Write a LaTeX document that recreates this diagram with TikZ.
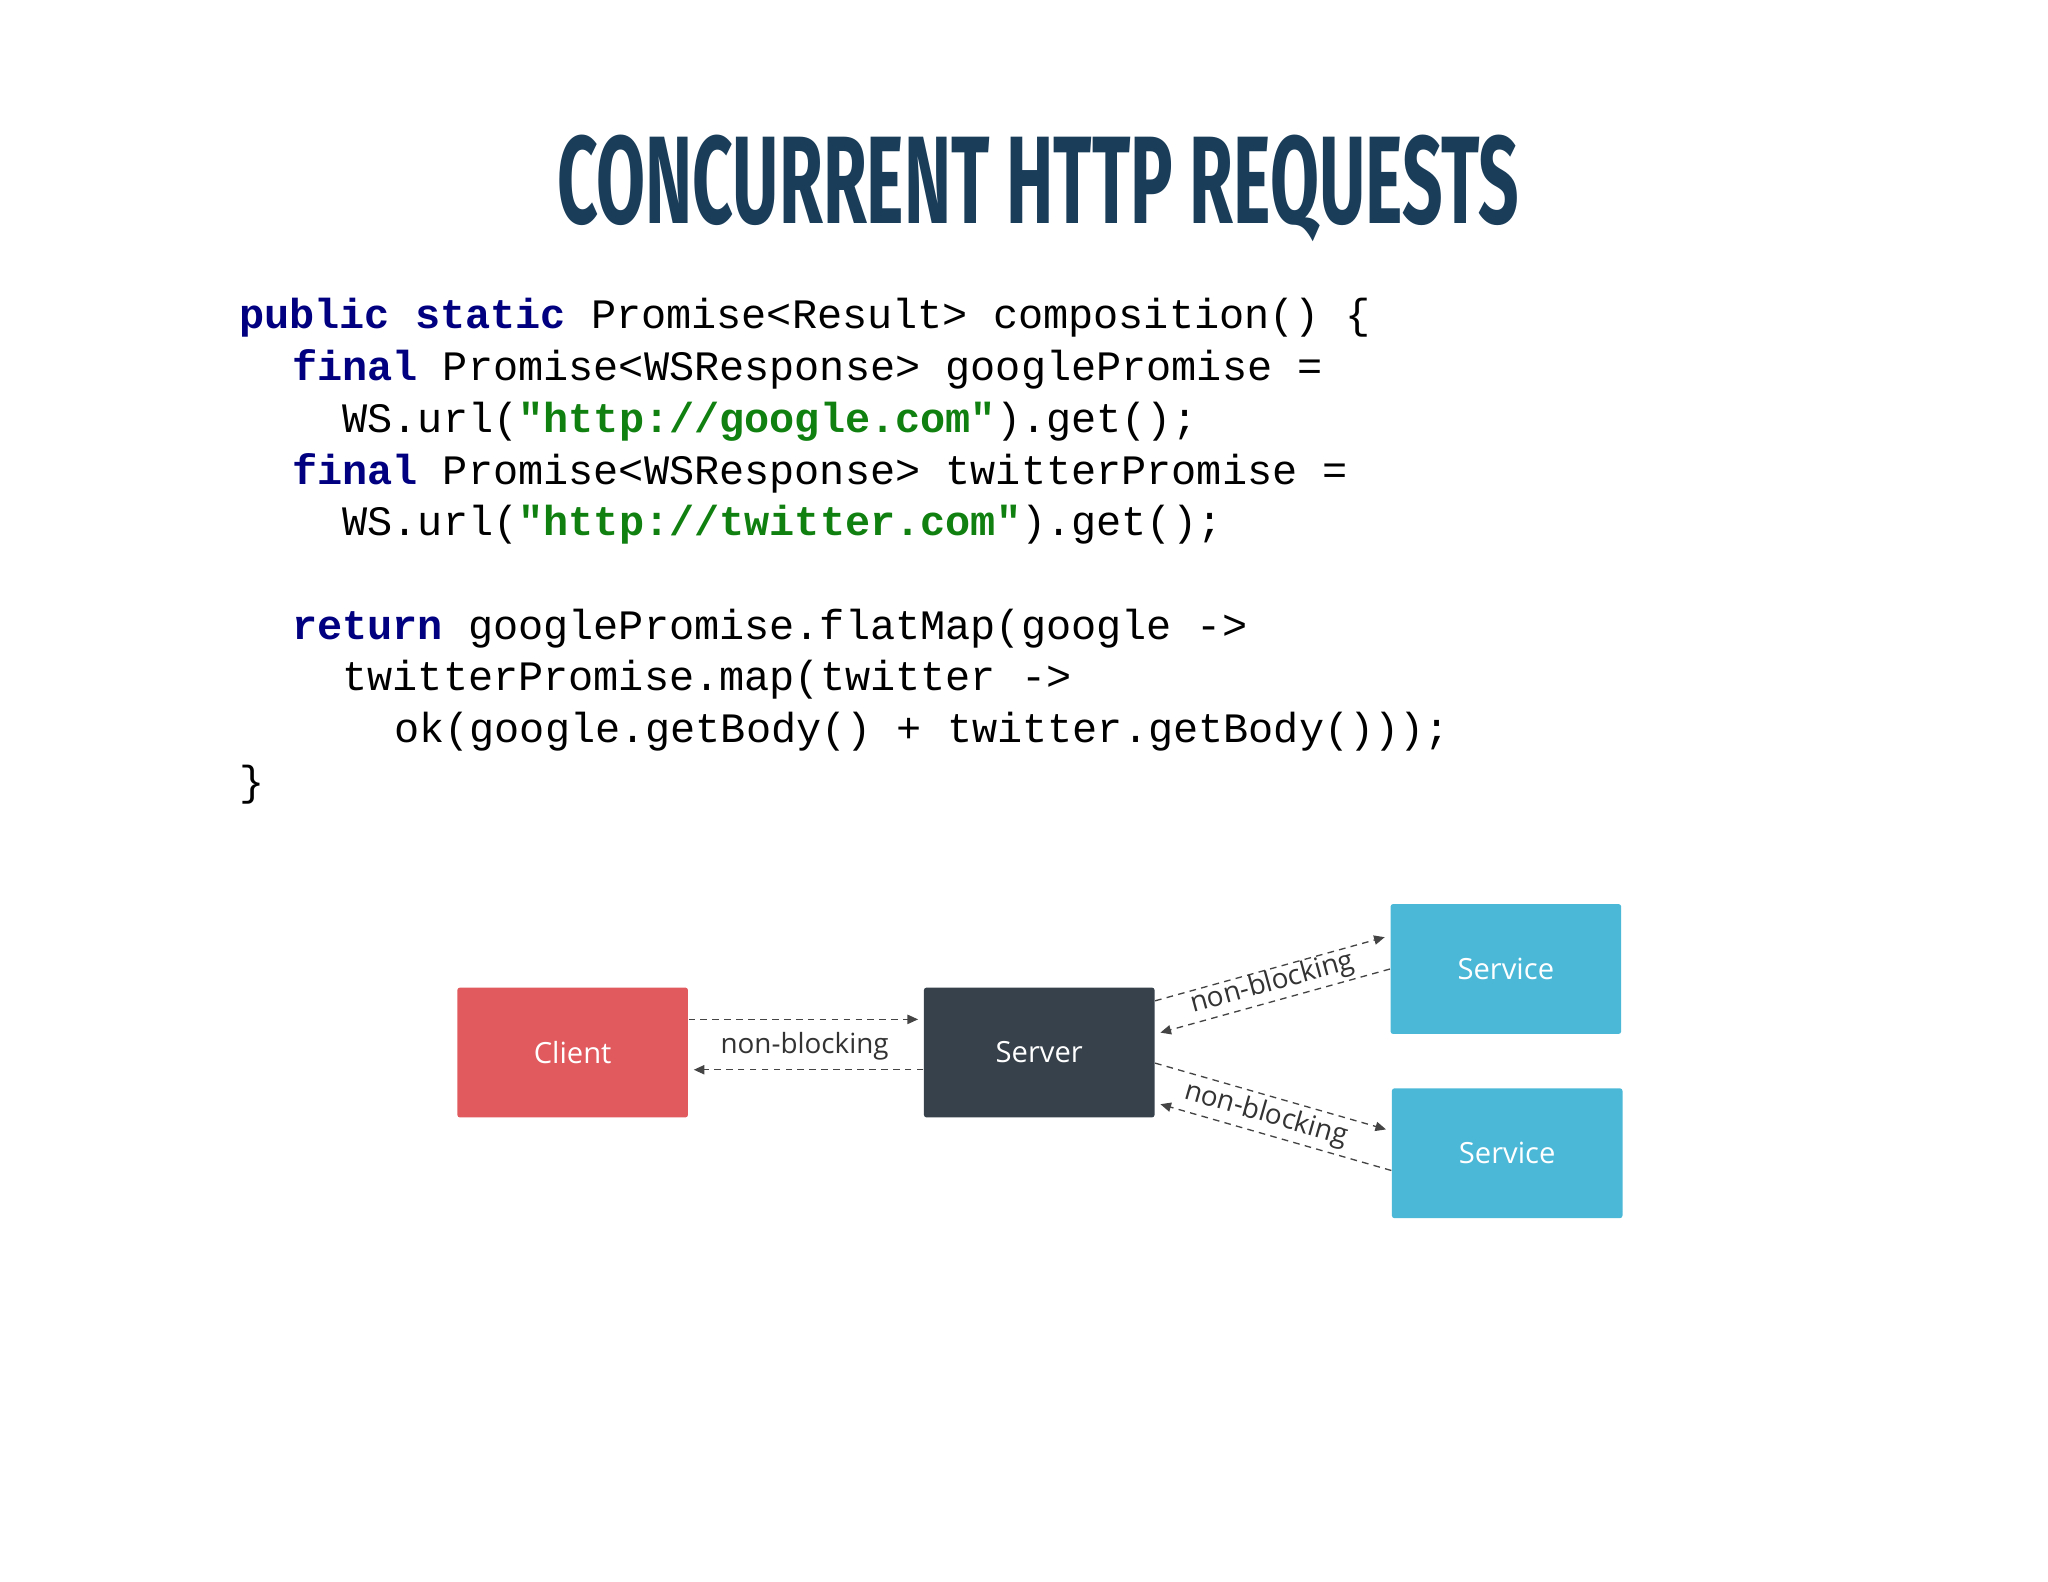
\documentclass[tikz,border=0pt]{standalone}
\usepackage{fontspec}
\setmainfont{Liberation Sans}
\newfontfamily\titlefont{Fira Sans}
\newfontfamily\codefont{Liberation Mono}
\newfontfamily\boxfont{Open Sans}
\usetikzlibrary{arrows.meta}
\definecolor{titlec}{HTML}{1A3D5A}
\definecolor{kw}{HTML}{000080}
\definecolor{str}{HTML}{108010}
\definecolor{clientc}{HTML}{E05A5E}
\definecolor{serverc}{HTML}{36414B}
\definecolor{servicec}{HTML}{4BB8D8}
\definecolor{linec}{HTML}{444444}
\begin{document}
\begin{tikzpicture}[x=0.5pt,y=-0.5pt,
  codeline/.style={anchor=west,inner sep=0pt,font=\codefont\fontsize{15.8}{15.8}\selectfont},
  boxnode/.style={minimum width=87pt,minimum height=49pt,inner sep=0pt,rounded corners=1pt,text=white,font=\boxfont\fontsize{11}{11}\selectfont},
  conn/.style={draw=linec,dashed,dash pattern=on 2.5pt off 2pt,line width=0.5pt,-{Triangle[length=4pt,width=3.5pt]}},
  lbl/.style={font=\boxfont\fontsize{10.5}{10.5}\selectfont,text=black!80,inner sep=1pt}]
\useasboundingbox (0,0) rectangle (1545,1193);
\node (title) at (783,142) {\titlefont\bfseries\fontsize{47}{47}\selectfont\color{titlec}\scalebox{0.57}[1]{CONCURRENT HTTP REQUESTS}};
\newcommand{\K}[1]{\textbf{\color{kw}#1}}
\newcommand{\Sg}[1]{\textbf{\color{str}#1}}
\node[codeline] (c1) at (180,240) {\K{public static} Promise<Result> composition() \{};
\node[codeline] (c2) at (220,279) {\K{final} Promise<WSResponse> googlePromise =};
\node[codeline] (c3) at (258,318) {WS.url(\Sg{"http://google.com"}).get();};
\node[codeline] (c4) at (220,357) {\K{final} Promise<WSResponse> twitterPromise =};
\node[codeline] (c5) at (258,396) {WS.url(\Sg{"http://twitter.com"}).get();};
\node[codeline] (c6) at (220,474) {\K{return} googlePromise.flatMap(google ->};
\node[codeline] (c7) at (258,513) {twitterPromise.map(twitter ->};
\node[codeline] (c8) at (297,552) {ok(google.getBody() + twitter.getBody()));};
\node[codeline] (c9) at (180,592) {\}};
\node[boxnode,fill=clientc] (client) at (432,794) {Client};
\node[boxnode,fill=serverc] (server) at (784,794) {Server};
\node[boxnode,fill=servicec] (s1) at (1136,731) {Service};
\node[boxnode,fill=servicec] (s2) at (1137,870) {Service};
\draw[conn] ([yshift=12.5pt]client.east) -- ([xshift=-2pt,yshift=12.5pt]server.west);
\draw[conn] ([yshift=-6.5pt]server.west) -- ([xshift=2pt,yshift=-6.5pt]client.east);
\node[lbl] (l1) at (607,789) {non-blocking};
\draw[conn] ([yshift=19.5pt]server.east) -- ([xshift=-2pt,yshift=12pt]s1.west);
\draw[conn] (s1.west) -- ([xshift=2pt,yshift=7.5pt]server.east);
\node[lbl,rotate=15.4] (l2) at (960,742) {non-blocking};
\draw[conn] ([yshift=-4pt]server.east) -- ([xshift=-2pt,yshift=9pt]s2.west);
\draw[conn] ([yshift=-6.5pt]s2.west) -- ([xshift=2pt,yshift=-19.5pt]server.east);
\node[lbl,rotate=-16] (l3) at (955,841) {non-blocking};
\end{tikzpicture}
\end{document}
